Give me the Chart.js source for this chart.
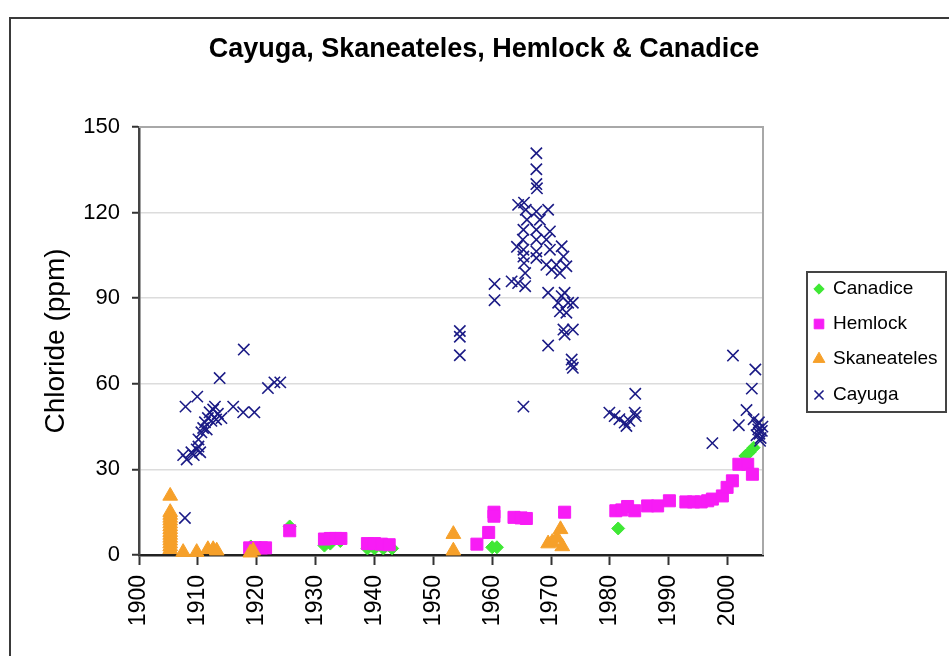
<!DOCTYPE html>
<html><head><meta charset="utf-8">
<style>html,body{margin:0;padding:0;background:#fff;overflow:hidden}#c{display:block}</style>
<script src="https://cdn.jsdelivr.net/npm/chart.js@4.4.1/dist/chart.umd.min.js"></script>
</head><body>
<canvas id="c" width="949" height="656"></canvas>
<script>
const chartTitle = 'Cayuga, Skaneateles, Hemlock & Canadice';
const yAxisTitle = 'Chloride (ppm)';
const seriesNames = ['Canadice', 'Hemlock', 'Skaneateles', 'Cayuga'];
const xTickValues = [1900, 1910, 1920, 1930, 1940, 1950, 1960, 1970, 1980, 1990, 2000];
const yTickValues = [0, 30, 60, 90, 120, 150];

const canadiceYears  = [1919, 1920.5, 1925.6, 1931.5, 1932.5, 1934.2, 1938.8, 1940, 1941.5, 1943, 1960, 1960.8, 1981.4, 2003, 2003.7, 2004.4];
const canadiceValues = [3, 2.5, 10, 3.3, 4, 4.9, 2.3, 2.3, 2.3, 2.3, 2.7, 2.7, 9.3, 34.7, 36, 37.6];

const hemlockYears  = [1918.8, 1919.8, 1920.8, 1921.5, 1925.6, 1931.5, 1932.5, 1933.4, 1934.3, 1938.8, 1940, 1941.2, 1942.5,
  1957.4, 1959.4, 1960.3, 1960.3, 1963.7, 1964.9, 1965.8, 1972.3,
  1981, 1982, 1983, 1984.2, 1986.4, 1988.1, 1990.1, 1992.9, 1994.2, 1995.5, 1996.6, 1997.4, 1999.1, 1999.9, 2000.8, 2001.9, 2003.4, 2004.2];
const hemlockValues = [2.5, 2.5, 2.5, 2.5, 8.5, 5.6, 5.8, 5.8, 5.8, 4, 4, 3.8, 3.6,
  3.8, 7.9, 15, 13.6, 13.2, 13, 12.8, 15,
  15.5, 15.8, 17, 15.5, 17.2, 17.2, 19, 18.6, 18.6, 18.6, 19, 19.6, 20.7, 23.7, 26, 31.8, 31.8, 28.3];

const skaneatelesYears  = [1905.3, 1905.3, 1905.3, 1905.3, 1905.3, 1905.3, 1905.3, 1905.3, 1905.3, 1905.3, 1905.3, 1905.3, 1905.3, 1905.3, 1905.3,
  1907.5, 1909.8, 1911.7, 1912.6, 1913.2, 1918.9, 1919.4, 1953.4, 1953.4, 1969.5, 1970.2, 1971, 1971.6, 1971.9];
const skaneatelesValues = [20.7, 15, 14, 13, 12, 11, 10, 9, 8, 7, 6, 5, 4, 3, 2,
  1, 1, 2, 2, 1.5, 0.8, 1.5, 7.3, 1.5, 4, 4.5, 6, 9, 3];

const cayugaYears  = [1907.8, 1907.9, 1907.5, 1908.1, 1908.9, 1909.3, 1909.8, 1910.1, 1910.1, 1909.9, 1910.4, 1910.6, 1910.9, 1911.2, 1911.5, 1911.7, 1912.0, 1912.3, 1912.6, 1912.9, 1913.1, 1913.4, 1914.0, 1913.7, 1916.0, 1917.8, 1917.7, 1919.6, 1921.9, 1923.0, 1924.0,
  1954.5, 1954.5, 1954.5, 1960.4, 1960.4, 1963.3, 1964.4, 1965.6, 1964.2, 1964.4, 1965.4, 1965.7, 1965.9, 1965.3, 1965.2, 1965.3, 1965.3, 1965.4, 1965.6, 1965.3,
  1967.5, 1967.5, 1967.5, 1967.6, 1967.5, 1968.1, 1967.5, 1967.5, 1967.5, 1967.5, 1969.5, 1969.8, 1969.2, 1969.8, 1969.2, 1970.1, 1969.5, 1969.5,
  1970.9, 1971.8, 1972.1, 1972.6, 1971.5, 1971.8, 1972.3, 1971.2, 1972.9, 1973.7, 1971.5, 1972.6, 1972.1, 1973.7, 1972.3, 1973.5, 1973.5, 1973.7,
  1979.9, 1980.8, 1981.6, 1982.5, 1983.3, 1982.8, 1984.2, 1984.4, 1984.3, 1997.4, 2000.9, 2001.9, 2003.2, 2004.1, 2004.7, 2004.4,
  2005.0, 2005.2, 2005.4, 2005.6, 2005.8, 2005.3, 2005.5, 2005.9, 2004.9];
const cayugaValues = [13, 52, 35, 33.5, 36, 35, 37, 38, 40.5, 55.5, 36, 43, 44.5, 46.5, 44, 48, 50, 47, 51, 52, 47.5, 49.5, 48, 62, 52, 72, 50, 50, 58.5, 60.5, 60.5,
  78.5, 76.5, 70, 95, 89.3, 95.9, 95.3, 94.2, 108, 122.7, 123.5, 121, 117.5, 114, 110.5, 107, 104.6, 102.3, 98.8, 52,
  140.8, 135.2, 130, 128.5, 120.4, 117.5, 114, 110.5, 106.4, 104.1, 121, 113.4, 110.5, 107, 101.7, 100, 91.9, 73.4,
  101.7, 108.2, 104.6, 101.2, 98.8, 90.7, 91.9, 88.4, 88.4, 88.4, 85.4, 84.9, 79, 79, 77.3, 68.5, 66.8, 65.6,
  49.9, 48.7, 47.6, 46.4, 47, 45.2, 49.9, 48.7, 56.5, 39.2, 69.9, 45.5, 50.8, 58.3, 65, 47.6,
  45.5, 44, 42.5, 41, 43.5, 46.5, 40, 45, 42];

const colors = { Canadice: '#3fe834', Hemlock: '#f71cf5', Skaneateles: '#f6a02a', Cayuga: '#1b1b86' };
const FONT = "'Liberation Sans', Arial, sans-serif";

function pts(xs, ys) { return xs.map((x, i) => ({ x: x, y: ys[i] })); }

const styles = {
  Canadice: { pointStyle: 'rectRot', radius: 6.5, borderWidth: 1 },
  Hemlock: { pointStyle: 'rect', radius: 8.5, borderWidth: 1 },
  Skaneateles: { pointStyle: 'triangle', radius: 8.5, borderWidth: 1 },
  Cayuga: { pointStyle: 'crossRot', radius: 8, borderWidth: 1.6 }
};

function ds(name, xs, ys, order) {
  const s = styles[name];
  return {
    label: name, data: pts(xs, ys), order: order,
    pointStyle: s.pointStyle, pointRadius: s.radius, pointHoverRadius: s.radius,
    backgroundColor: colors[name], borderColor: colors[name], borderWidth: s.borderWidth,
    showLine: false, clip: false
  };
}

const decor = {
  id: 'decor',
  beforeDraw(chart) {
    const ctx = chart.ctx;
    ctx.save();
    ctx.fillStyle = '#fff';
    ctx.fillRect(0, 0, chart.width, chart.height);
    ctx.strokeStyle = '#3a3a3a';
    ctx.lineWidth = 2;
    ctx.strokeRect(10, 18, 1000, 800);
    ctx.restore();
  },
  beforeDatasetsDraw(chart) {
    const ctx = chart.ctx, a = chart.chartArea;
    ctx.save();
    ctx.strokeStyle = '#a8a8a8';
    ctx.lineWidth = 2;
    ctx.beginPath();
    ctx.moveTo(a.left, a.top);
    ctx.lineTo(a.right, a.top);
    ctx.lineTo(a.right, a.bottom);
    ctx.stroke();
    ctx.restore();
  },
  afterDraw(chart) {
    const ctx = chart.ctx;
    ctx.save();
    ctx.fillStyle = '#000';
    ctx.font = 'bold 27px ' + FONT;
    ctx.textAlign = 'center';
    ctx.textBaseline = 'alphabetic';
    ctx.fillText(chartTitle, 484, 57);
    // legend
    ctx.strokeStyle = '#444';
    ctx.lineWidth = 2;
    ctx.strokeRect(807, 272, 139, 140);
    const rowY = [289, 324, 359, 395];
    ctx.font = '19px ' + FONT;
    ctx.textAlign = 'left';
    ctx.textBaseline = 'middle';
    seriesNames.forEach((name, i) => {
      const s = styles[name];
      ctx.fillStyle = colors[name];
      ctx.strokeStyle = colors[name];
      ctx.lineWidth = s.borderWidth;
      Chart.helpers.drawPoint(ctx, { pointStyle: s.pointStyle, radius: s.radius * 0.8, borderWidth: s.borderWidth, rotation: 0 }, 819, rowY[i]);
      ctx.fillStyle = '#000';
      ctx.fillText(name, 833, rowY[i]);
    });
    ctx.restore();
  }
};

new Chart(document.getElementById('c'), {
  type: 'scatter',
  data: {
    datasets: [
      ds('Canadice', canadiceYears, canadiceValues, 4),
      ds('Hemlock', hemlockYears, hemlockValues, 3),
      ds('Skaneateles', skaneatelesYears, skaneatelesValues, 2),
      ds('Cayuga', cayugaYears, cayugaValues, 1)
    ]
  },
  options: {
    responsive: false,
    devicePixelRatio: 1,
    animation: false,
    layout: { padding: { top: 127, right: 186, left: 0, bottom: 0 } },
    plugins: { legend: { display: false }, tooltip: { enabled: false }, title: { display: false } },
    scales: {
      x: {
        type: 'linear', min: 1900, max: 2006,
        afterBuildTicks: s => { s.ticks = xTickValues.map(v => ({ value: v })); },
        afterFit: s => { s.height = 101; },
        ticks: { autoSkip: false, minRotation: 90, maxRotation: 90, padding: 10, color: '#000',
          font: { family: FONT, size: 23 }, callback: v => String(v) },
        grid: { drawOnChartArea: false, tickLength: 10, tickColor: '#333', tickWidth: 2 },
        border: { color: '#222', width: 2.5 }
      },
      y: {
        type: 'linear', min: 0, max: 150,
        afterBuildTicks: s => { s.ticks = yTickValues.map(v => ({ value: v })); },
        afterFit: s => { s.width = 139; },
        ticks: { padding: 12, color: '#000', font: { family: FONT, size: 22 }, callback: v => String(v) },
        grid: { color: '#dcdcdc', lineWidth: 1.5, tickLength: 7, tickColor: '#333', tickWidth: 2 },
        border: { color: '#444', width: 2.5 },
        title: { display: true, text: yAxisTitle, color: '#000', font: { family: FONT, size: 28, weight: 'normal' }, padding: { top: 39, bottom: 0 } }
      }
    }
  },
  plugins: [decor]
});
</script>
</body></html>
